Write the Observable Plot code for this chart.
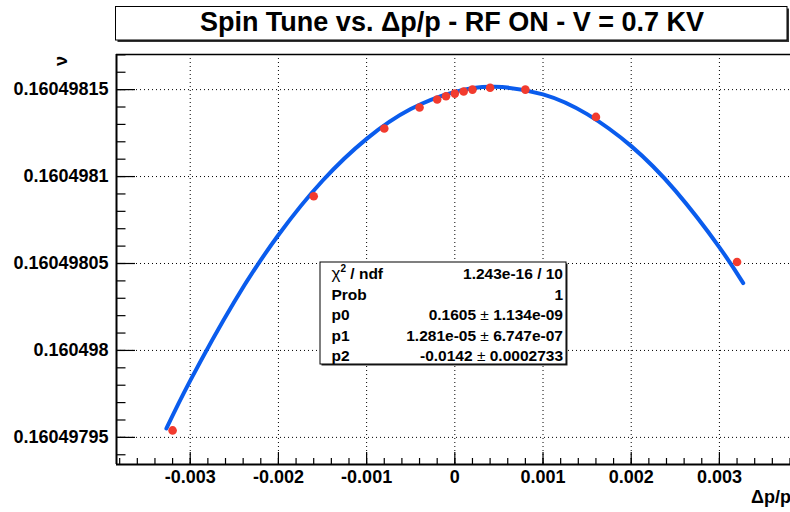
<!DOCTYPE html>
<html>
<head>
<meta charset="utf-8">
<script src="https://cdn.jsdelivr.net/npm/d3@7"></script>
<script src="https://cdn.jsdelivr.net/npm/@observablehq/plot@0.6"></script>
<style>
  html, body { margin: 0; padding: 0; background: #fff; overflow: hidden; }
  #chart svg { display: block; }
</style>
</head>
<body>
<div id="chart"></div>
<script>
// ---- data ----
const dpp = [-0.0032, -0.0016, -0.0008, -0.0004, -0.0002, -0.0001, 0, 0.0001, 0.0002, 0.0004, 0.0008, 0.0016, 0.0032];
const nu  = [0.1604979540, 0.1604980887, 0.1604981276, 0.1604981397, 0.1604981443, 0.1604981462, 0.1604981477,
             0.1604981489, 0.1604981500, 0.1604981511, 0.1604981500, 0.1604981343, 0.1604980509];

// fitted curve (pol2), sampled from the drawn curve
const fitX  = [-0.00327, -0.003, -0.0025, -0.002, -0.0015, -0.001, -0.0005, 0, 0.00045, 0.001, 0.0015, 0.002, 0.0025, 0.003, 0.00327];
const fitNu = [0.1604979551, 0.1604979826, 0.1604980280, 0.1604980664, 0.1604980976, 0.1604981217, 0.1604981388,
               0.1604981487, 0.1604981516, 0.1604981473, 0.1604981359, 0.1604981175, 0.1604980919, 0.1604980593, 0.1604980387];

const xTicks = [-0.003, -0.002, -0.001, 0, 0.001, 0.002, 0.003];
const xTickLabels = ["-0.003", "-0.002", "-0.001", "0", "0.001", "0.002", "0.003"];
const yTicks = [0.16049795, 0.160498, 0.16049805, 0.1604981, 0.16049815];
const yTickLabels = ["0.16049795", "0.160498", "0.16049805", "0.1604981", "0.16049815"];

const titleText = "Spin Tune vs. \u0394p/p - RF ON - V = 0.7 KV";
const xTitle = "\u0394p/p";
const yTitle = "\u03bd";
const statsLabels = ["\u03c7\u00b2 / ndf", "Prob", "p0", "p1", "p2"];
const statsValues = [["1.243e-16 / 10"], ["1"], ["0.1605", "1.134e-09"], ["1.281e-05", "6.747e-07"], ["-0.0142", "0.0002733"]];

// ---- layout ----
const W = 790, H = 512;
const mL = 116, mR = 0, mT = 54, mB = 48;
const xDomain = [-0.003836, 0.003806];
const yDomain = [0.1604979344, 0.1604981702];
const frameW = W - mL - mR, frameH = H - mT - mB;
const FONT = "'Liberation Sans', Arial, Helvetica, sans-serif";

const xMinor = d3.range(-19, 20).map(i => +(i * 0.0002).toFixed(6)).filter(v => v > xDomain[0] && v < xDomain[1]);
const yMinor = d3.range(0, 25).map(i => +(0.16049793 + i * 1e-8).toFixed(10)).filter(v => v >= yDomain[0] && v <= yDomain[1] + 1e-12);

const pts = dpp.map((x, i) => ({x, y: nu[i]}));
const fit = fitX.map((x, i) => ({x, y: fitNu[i]}));

const chart = Plot.plot({
  width: W, height: H,
  marginLeft: mL, marginRight: mR, marginTop: mT, marginBottom: mB,
  style: {fontFamily: FONT, background: "white", overflow: "visible"},
  x: {type: "linear", domain: xDomain, axis: null},
  y: {type: "linear", domain: yDomain, axis: null},
  marks: [
    // dotted grid
    Plot.ruleX(xTicks, {x: d => d, stroke: "black", strokeWidth: 1, strokeDasharray: "1,3"}),
    Plot.ruleY(yTicks, {y: d => d, stroke: "black", strokeWidth: 1, strokeDasharray: "1,3"}),
    // frame: top, left, bottom
    Plot.ruleY([yDomain[1]], {stroke: "black", strokeWidth: 1.5}),
    Plot.ruleX([xDomain[0]], {stroke: "black", strokeWidth: 2}),
    Plot.ruleY([yDomain[0]], {stroke: "black", strokeWidth: 2}),
    // y ticks (inward)
    Plot.tickY(yMinor, {y: d => d, stroke: "black", strokeWidth: 1.2, insetRight: frameW - 9.5}),
    Plot.tickY(yTicks, {y: d => d, stroke: "black", strokeWidth: 1.2, insetRight: frameW - 19}),
    // x ticks (inward)
    Plot.tickX(xMinor, {x: d => d, stroke: "black", strokeWidth: 1.2, insetTop: frameH - 6}),
    Plot.tickX(xTicks, {x: d => d, stroke: "black", strokeWidth: 1.2, insetTop: frameH - 12}),
    // tick labels
    Plot.text(yTicks, {y: d => d, frameAnchor: "left", textAnchor: "end", dx: -8,
      text: (d, i) => yTickLabels[i], fontSize: 18, fontWeight: "bold", fill: "black"}),
    Plot.text(xTicks, {x: d => d, frameAnchor: "bottom", lineAnchor: "top", dy: 6,
      text: (d, i) => xTickLabels[i], fontSize: 18, fontWeight: "bold", fill: "black"}),
    // fit curve
    Plot.line(fit, {x: "x", y: "y", curve: "natural", stroke: "#0a5ced", strokeWidth: 4}),
    // data points
    Plot.dot(pts, {x: "x", y: "y", r: 4.3, fill: "#f23b2e", stroke: "none"})
  ]
});

document.getElementById("chart").appendChild(chart);
const svg = d3.select(chart);

// title box
const tb = {x0: 115.5, y0: 6.5, x1: 787, y1: 40};
svg.append("rect").attr("x", tb.x0 + 2).attr("y", tb.y0 + 2).attr("width", tb.x1 - tb.x0).attr("height", tb.y1 - tb.y0)
  .attr("fill", "#333");
svg.append("rect").attr("x", tb.x0).attr("y", tb.y0).attr("width", tb.x1 - tb.x0).attr("height", tb.y1 - tb.y0)
  .attr("fill", "white").attr("stroke", "black").attr("stroke-width", 1);
svg.append("text").attr("x", (201 + 703) / 2).attr("y", 30.5).attr("text-anchor", "middle")
  .attr("font-family", FONT).attr("font-weight", "bold").attr("font-size", 27).text(titleText);

// axis titles
svg.append("text").attr("transform", "translate(67,56) rotate(-90)").attr("text-anchor", "end")
  .attr("font-family", FONT).attr("font-weight", "bold").attr("font-size", 18).text(yTitle);
svg.append("text").attr("x", 791).attr("y", 503).attr("text-anchor", "end")
  .attr("font-family", FONT).attr("font-weight", "bold").attr("font-size", 18).text(xTitle);

// stats box
const sb = {x0: 320, y0: 262, x1: 566, y1: 364};
svg.append("rect").attr("x", sb.x0 + 1.5).attr("y", sb.y0 + 1.5).attr("width", sb.x1 - sb.x0).attr("height", sb.y1 - sb.y0)
  .attr("fill", "#222");
svg.append("rect").attr("x", sb.x0).attr("y", sb.y0).attr("width", sb.x1 - sb.x0).attr("height", sb.y1 - sb.y0)
  .attr("fill", "white").attr("stroke", "black").attr("stroke-width", 1);
const baselines = [279, 299.5, 320, 340.5, 361];
statsLabels.forEach((lab, i) => {
  const t = svg.append("text").attr("x", 331.5).attr("y", baselines[i]).attr("text-anchor", "start")
    .attr("font-family", FONT).attr("font-weight", "bold").attr("font-size", 15.5);
  if (i === 0) {
    t.append("tspan").attr("font-weight", "normal").attr("font-size", 17).text("\u03c7");
    t.append("tspan").attr("font-size", 10).attr("dy", -7).text("2");
    t.append("tspan").attr("dy", 7).text(" / ndf");
  } else {
    t.text(lab);
  }
  const v = svg.append("text").attr("x", 563).attr("y", baselines[i]).attr("text-anchor", "end")
    .attr("font-family", FONT).attr("font-weight", "bold").attr("font-size", 15.5);
  const vals = statsValues[i];
  if (vals.length === 1) {
    v.text(vals[0]);
  } else {
    v.append("tspan").text(vals[0] + " ");
    v.append("tspan").attr("font-weight", "normal").text("\u00b1");
    v.append("tspan").text(" " + vals[1]);
  }
});
</script>
</body>
</html>
